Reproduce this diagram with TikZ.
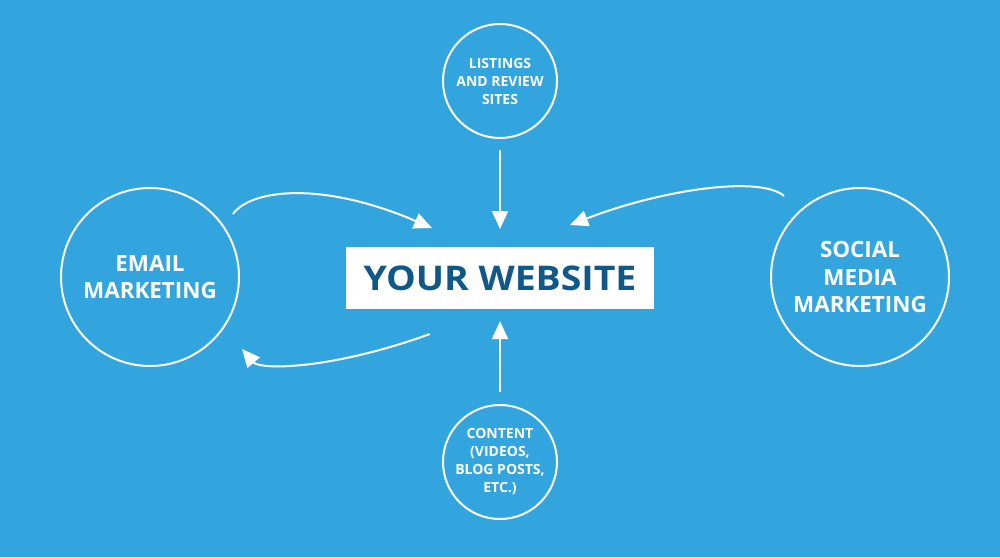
\documentclass[tikz,border=0pt]{standalone}
\usepackage{fontspec}
\setmainfont{Open Sans}
\newfontfamily\widefont{Open Sans}[FakeStretch=1.1]
\usetikzlibrary{arrows.meta}
\definecolor{bg}{RGB}{51,165,222}
\definecolor{navy}{RGB}{15,88,138}
\tikzset{
  bubble/.style={circle, draw=white, line width=2pt, text=white, font=\bfseries, align=center, inner sep=0pt},
  big/.style={bubble, minimum size=178pt, font=\fontsize{22.4}{27.5}\selectfont\bfseries},
  small/.style={bubble, minimum size=114pt, font=\fontsize{14}{18}\selectfont\bfseries},
  flow/.style={draw=white, line width=2pt, -{Triangle[length=18pt,width=16pt]}},
}
\begin{document}
\begin{tikzpicture}[x=1pt,y=-1pt]
\fill[bg] (0,0) rectangle (1000,557);
\useasboundingbox (0,0) rectangle (1000,557);
\node[fill=white, minimum width=308pt, minimum height=62pt, inner sep=0pt, text=navy, font=\widefont\fontsize{34}{34}\selectfont\bfseries] (web) at (500,278) {YOUR WEBSITE};
\node[small] (list) at (500,81) {LISTINGS\\AND REVIEW\\SITES};
\node[small] (content) at (500,462) {CONTENT\\(VIDEOS,\\BLOG POSTS,\\ETC.)};
\node[big] (email) at (150,277) {EMAIL\\MARKETING};
\node[big] (social) at (860,277) {SOCIAL\\MEDIA\\MARKETING};
\coordinate (lt) at (233,214);
\coordinate (lttip) at (432,228);
\coordinate (lb) at (430,334);
\coordinate (lbtip) at (242,349);
\coordinate (rt) at (784,196);
\coordinate (rttip) at (570,225);
\coordinate (tops) at (500,150);
\coordinate (toptip) at (500,229);
\coordinate (bots) at (500,392);
\coordinate (bottip) at (500,321);
\draw[flow] (tops) -- (toptip);
\draw[flow] (bots) -- (bottip);
\draw[flow] (lt) .. controls (250,190) and (320,180) .. (lttip);
\draw[flow] (lb) .. controls (330,370) and (260,370) .. (lbtip);
\draw[flow] (rt) .. controls (760,175) and (660,190) .. (rttip);
\end{tikzpicture}
\end{document}
